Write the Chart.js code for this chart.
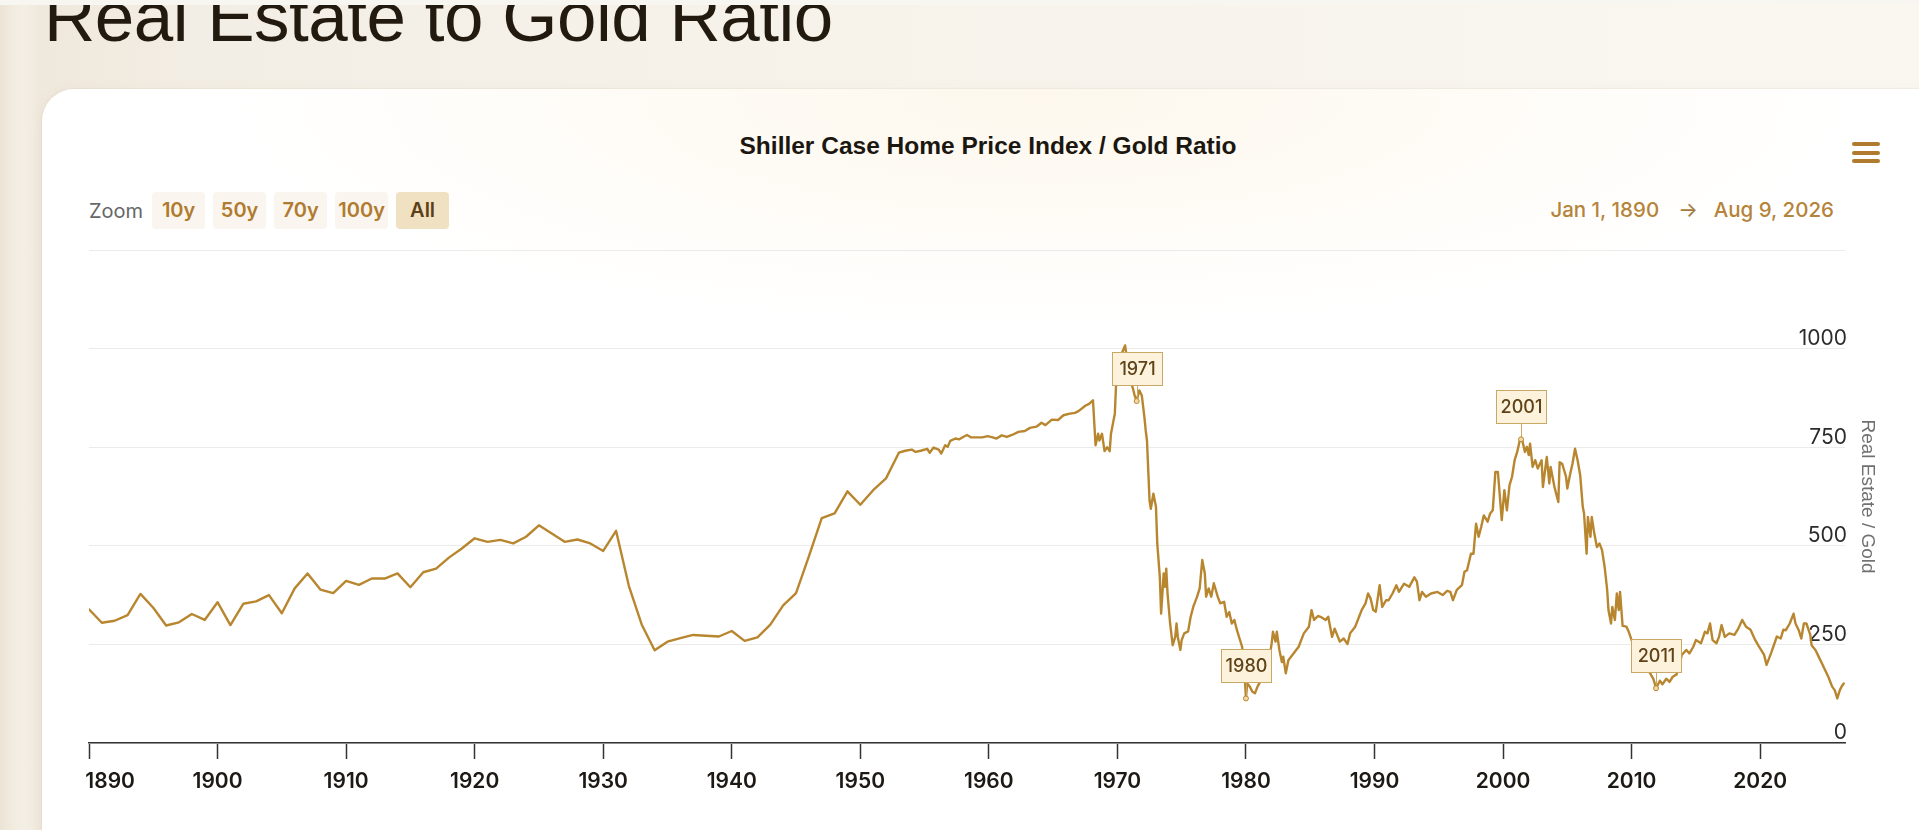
<!DOCTYPE html>
<html>
<head>
<meta charset="utf-8">
<title>Real Estate to Gold Ratio</title>
<script src="https://cdn.jsdelivr.net/npm/chart.js@4.4.1/dist/chart.umd.min.js"></script>
<style>
  html, body { margin: 0; padding: 0; width: 1919px; height: 830px; overflow: hidden; }
  body {
    position: relative;
    background: linear-gradient(90deg, #ebe4d6 0px, #f1ebdf 12px, #f4efe5 24px, #efe8dc 40px, #f3eee5 200px, #f7f3eb 900px, #faf7f1 1919px);
    font-family: Inter, "Liberation Sans", sans-serif;
  }
  #topstrip { position: absolute; left: 0; top: 0; width: 1919px; height: 5px; background: #f8f6f1; z-index: 3; }
  #pageTitle {
    position: absolute; left: 44px; top: -19px; margin: 0;
    font-family: "Liberation Sans", Arial, sans-serif; font-weight: 400; font-size: 71px; line-height: 1;
    color: #221a0f; white-space: nowrap; letter-spacing: -0.5px;
  }
  #card {
    position: absolute; left: 42px; top: 89px; width: 1940px; height: 800px;
    border-radius: 32px;
    background:
      radial-gradient(ellipse 820px 230px at 1000px 10px, rgba(252,242,222,0.55), rgba(255,255,255,0) 100%),
      #ffffff;
    box-shadow: 0 0 0 1px rgba(160,130,80,0.06), 0 2px 14px rgba(150,120,70,0.07);
  }
  #chartTitle {
    position: absolute; left: 0; width: 1976px; top: 134px; text-align: center;
    font-family: "Liberation Sans", Arial, sans-serif; font-weight: 700; font-size: 24.5px; line-height: 1;
    color: #1b1710; white-space: nowrap;
  }
  #zoomBar { position: absolute; left: 89px; top: 192px; height: 37px; display: flex; align-items: center; }
  #zoomBar .lbl { font-size: 20px; color: #666; margin-right: 9px; }
  #zoomBar .btn {
    height: 37px; line-height: 37px; padding: 0; text-align: center; width: 53px;
    margin-right: 8px; border-radius: 4px; background: #faf5ee;
    font-size: 20px; font-weight: 600; color: #b07b2e;
  }
  #zoomBar .btn.active { background: #f0e1c2; color: #5c3f15; width: 53px; }
  #range {
    position: absolute; right: 85px; top: 197px; height: 26px; line-height: 26px;
    font-size: 20.5px; font-weight: 500; color: #b5843a; white-space: nowrap;
  }
  #range .arrow { color: #a47a3c; margin: 0 16px 0 19px; font-weight: 400; }
  #menu { position: absolute; left: 1852px; top: 142px; width: 28px; height: 21px; }
  #menu div { position: absolute; left: 0; width: 28px; height: 4px; border-radius: 2px; background: #b07b2e; }
  #chartCanvas { position: absolute; left: 0; top: 0; }
</style>
</head>
<body>
<div id="topstrip"></div>
<h1 id="pageTitle">Real Estate to Gold Ratio</h1>
<div id="card"></div>
<div id="chartTitle">Shiller Case Home Price Index / Gold Ratio</div>
<div id="zoomBar">
  <span class="lbl">Zoom</span>
  <span class="btn">10y</span>
  <span class="btn">50y</span>
  <span class="btn">70y</span>
  <span class="btn">100y</span>
  <span class="btn active">All</span>
</div>
<div id="range"><span>Jan 1, 1890</span><span class="arrow">→</span><span>Aug 9, 2026</span></div>
<div id="menu"><div style="top:0"></div><div style="top:8.5px"></div><div style="top:17px"></div></div>
<canvas id="chartCanvas" width="1919" height="830"></canvas>

<script>
// ---------------- DATA ----------------
const years = [
  1890,1891,1892,1893,1894,1895,1896,1897,1898,1899,
  1900,1901,1902,1903,1904,1905,1906,1907,1908,1909,
  1910,1911,1912,1913,1914,1915,1916,1917,1918,1919,
  1920,1921,1922,1923,1924,1925,1926,1927,1928,1929,
  1930,1931,1932,1933,1934,1935,1936,1937,1938,1939,
  1940,1941,1942,1943,1944,1945,1946,1947,1948,1949,
  1950,1951,1952,1953,
  1953.5,1954,1954.3,1954.7,1955.2,1955.4,1955.7,1956.1,1956.3,1956.6,1956.8,
  1957.0,1957.4,1957.7,1958.0,1958.3,1958.6,1959.0,1959.5,1959.9,
  1960.3,1960.6,1961.0,1961.4,1961.8,1962.3,1962.8,1963.2,1963.7,
  1964.1,1964.4,1964.9,1965.4,1965.8,1966.3,1966.7,1967.0,1967.5,1967.8,1968.1,
  1968.3,1968.5,1968.6,1968.8,1969.0,1969.2,1969.4,1969.5,1969.7,1969.8,1969.9,
  1970.1,1970.3,1970.6,1970.8,1971.0,1971.2,1971.35,1971.5,1971.7,1971.9,
  1972.1,1972.2,1972.3,1972.4,1972.5,1972.6,1972.8,1973.0,1973.1,1973.3,1973.4,
  1973.6,1973.7,1973.8,1973.9,1974.1,1974.3,1974.5,1974.6,1974.7,1974.9,
  1975.0,1975.2,1975.5,1975.7,1975.9,1976.2,1976.4,1976.6,1976.8,1976.9,
  1977.1,1977.3,1977.5,1977.8,1978.0,1978.3,1978.5,1978.7,1978.9,
  1979.1,1979.3,1979.5,1979.7,1979.85,1980.0,1980.1,1980.3,1980.5,1980.7,1980.9,
  1981.1,1981.5,1981.8,1982.0,1982.1,1982.3,1982.4,1982.6,1982.8,1982.9,
  1983.1,1983.3,1983.7,1984.1,1984.5,1984.9,1985.1,1985.3,1985.6,1985.8,
  1986.2,1986.4,1986.7,1986.9,1987.3,1987.6,1987.9,1988.1,1988.5,1988.8,
  1989.0,1989.3,1989.5,1989.7,1989.9,1990.1,1990.4,1990.6,1990.9,
  1991.1,1991.4,1991.7,1991.9,1992.3,1992.7,1993.1,1993.3,1993.5,1993.7,
  1994.0,1994.4,1994.9,1995.3,1995.65,1995.9,1996.1,1996.4,1996.8,
  1997.0,1997.2,1997.5,1997.7,1997.9,1998.1,1998.3,1998.5,1998.8,
  1999.0,1999.2,1999.4,1999.6,1999.9,2000.1,2000.3,2000.5,2000.7,2000.9,
  2001.1,2001.3,2001.4,2001.5,2001.7,2001.85,2002.0,2002.1,2002.3,2002.5,2002.7,
  2003.0,2003.1,2003.4,2003.6,2003.7,2004.0,2004.3,2004.4,2004.6,2004.9,
  2005.0,2005.2,2005.4,2005.6,2005.8,2006.0,2006.2,2006.3,2006.5,2006.6,2006.8,2006.9,
  2007.1,2007.3,2007.5,2007.7,2007.9,2008.1,2008.2,2008.4,2008.5,2008.7,2008.85,
  2009.0,2009.1,2009.3,2009.6,2009.8,2010.0,2010.3,2010.6,
  2011.0,2011.4,2011.7,2011.9,2012.2,2012.4,2012.7,2012.95,2013.2,2013.5,2013.75,2013.9,
  2014.25,2014.5,2014.8,2015.0,2015.4,2015.7,2015.9,2016.1,2016.3,2016.6,2016.8,
  2017.0,2017.25,2017.6,2018.0,2018.3,2018.6,2018.9,2019.25,2019.6,2019.9,
  2020.3,2020.5,2020.85,2021.3,2021.6,2021.8,2022.0,2022.3,2022.6,2022.75,
  2023.0,2023.2,2023.4,2023.6,2023.9,2024.0,2024.3,2024.55,2024.8,
  2025.05,2025.3,2025.6,2025.8,2026.0,2026.2,2026.35,2026.5
];
const ratio = [
  339,305,310,324,378,343,298,306,327,312,
  357,299,353,359,375,329,392,430,389,380,
  411,401,417,417,430,395,433,442,470,493,
  519,510,515,506,523,552,531,510,516,506,
  487,538,398,300,235,257,266,274,272,270,
  284,259,268,300,349,380,473,570,582,638,
  604,641,671,736,
  741,744,738,741,746,736,749,744,734,755,751,
  766,772,770,776,781,775,775,775,778,
  775,772,780,776,781,789,791,799,802,
  812,806,820,819,831,835,837,842,855,860,869,
  755,784,767,784,740,750,740,784,818,835,911,
  945,985,1008,960,920,900,880,867,894,881,
  826,793,767,691,615,594,632,599,506,421,328,
  430,396,442,379,303,248,269,303,269,236,
  261,278,283,320,345,371,392,464,430,371,
  392,371,405,371,354,358,320,332,303,
  312,286,265,244,200,113,151,143,130,126,143,
  155,175,210,253,282,257,282,236,205,219,
  177,210,227,244,278,295,337,312,322,320,
  312,320,269,290,257,265,251,278,295,320,
  337,354,379,366,337,333,400,345,362,
  362,379,400,383,404,396,420,409,362,383,
  371,379,383,375,386,383,362,388,400,
  434,438,480,480,556,523,548,577,561,
  582,590,687,687,565,641,590,653,675,717,
  738,767,770,767,738,751,730,759,700,717,696,
  717,649,725,658,700,649,611,712,708,675,
  645,679,708,746,717,679,599,582,480,573,523,573,
  531,497,506,489,447,388,337,303,345,312,379,
  337,383,297,295,280,261,235,215,
  195,179,162,139,158,149,163,155,168,174,200,223,
  236,227,244,261,253,282,278,303,261,253,269,
  299,269,278,274,290,312,295,287,262,245,
  224,198,228,270,265,287,286,303,328,303,
  286,265,303,303,274,248,236,219,202,
  185,168,143,134,113,134,144,151
];
const xTickYears = [1890,1900,1910,1920,1930,1940,1950,1960,1970,1980,1990,2000,2010,2020];
const yTickValues = [0,250,500,750,1000,1250];
const annoYears  = [1971.5, 1980.0, 2001.4, 2011.9];
const annoValues = [867, 113, 770, 139];
const annoLabels = ['1971', '1980', '2001', '2011'];

// ---------------- CHART ----------------
const lineColor = '#b8862f';

const annotationPlugin = {
  id: 'yearFlags',
  afterDatasetsDraw(chart) {
    const {ctx, scales: {x, y}} = chart;
    ctx.save();
    annoYears.forEach((yr, i) => {
      const px = x.getPixelForValue(yr);
      const py = y.getPixelForValue(annoValues[i]);
      const w = 50, h = 33, gap = 16;
      const bx = Math.round(px - w / 2) + 0.5;
      const by = Math.round(py - gap - h) + 0.5;
      ctx.strokeStyle = '#c9a766';
      ctx.lineWidth = 1;
      ctx.beginPath();
      ctx.moveTo(Math.round(px) + 0.5, py);
      ctx.lineTo(Math.round(px) + 0.5, by + h);
      ctx.stroke();
      ctx.fillStyle = '#fdf3dc';
      ctx.fillRect(bx, by, w, h);
      ctx.strokeStyle = '#c9a766';
      ctx.strokeRect(bx, by, w, h);
      ctx.fillStyle = '#5f4217';
      ctx.font = '500 18px Inter, "Liberation Sans", sans-serif';
      ctx.textAlign = 'center';
      ctx.textBaseline = 'middle';
      ctx.fillText(annoLabels[i], bx + w / 2, by + h / 2 + 1);
      ctx.beginPath();
      ctx.arc(px, py, 2.5, 0, Math.PI * 2);
      ctx.fillStyle = '#f1d9a6';
      ctx.fill();
      ctx.strokeStyle = lineColor;
      ctx.lineWidth = 1;
      ctx.stroke();
    });
    ctx.restore();
  }
};

const points = years.map((yr, i) => ({x: yr, y: ratio[i]}));

new Chart(document.getElementById('chartCanvas'), {
  type: 'line',
  data: {
    datasets: [{
      label: 'Real Estate / Gold',
      data: points,
      borderColor: lineColor,
      borderWidth: 2.4,
      pointRadius: 0,
      pointHoverRadius: 0,
      tension: 0,
      fill: false,
      borderJoinStyle: 'round',
      borderCapStyle: 'round'
    }]
  },
  options: {
    responsive: false,
    animation: false,
    events: [],
    layout: { padding: { left: 89, top: 250, right: 40, bottom: 0 } },
    plugins: {
      legend: { display: false },
      tooltip: { enabled: false },
      title: { display: false }
    },
    scales: {
      x: {
        type: 'linear',
        min: 1890,
        max: 2026.6,
        afterBuildTicks: (axis) => { axis.ticks = xTickYears.map(v => ({value: v})); },
        afterFit: (axis) => { axis.height = 87; },
        grid: { drawOnChartArea: false, drawTicks: true, tickLength: 16, tickColor: '#333333', tickWidth: 1.5 },
        border: { display: true, color: '#333333', width: 1.5 },
        ticks: {
          autoSkip: false,
          maxRotation: 0,
          minRotation: 0,
          padding: 10,
          color: '#1d1a16',
          font: { family: 'Inter, "Liberation Sans", sans-serif', size: 21, weight: '600' },
          callback: (v) => (v === 1890 ? '        ' + String(v) : String(v))
        }
      },
      y: {
        position: 'right',
        min: 0,
        max: 1250,
        afterBuildTicks: (axis) => { axis.ticks = yTickValues.map(v => ({value: v})); },
        afterFit: (axis) => { axis.width = 34; },
        grid: { color: '#ebebeb', lineWidth: 1, drawTicks: false },
        border: { display: false },
        ticks: {
          mirror: true,
          padding: 2,
          labelOffset: -10,
          color: '#2b2b2b',
          font: { family: 'Inter, "Liberation Sans", sans-serif', size: 21, weight: '400' },
          callback: (v) => (v === 1250 ? '' : String(v))
        },
        title: {
          display: true,
          text: 'Real Estate / Gold',
          color: '#707070',
          padding: 0,
          font: { family: '"Liberation Sans", Arial, sans-serif', size: 19, weight: '400' }
        }
      }
    }
  },
  plugins: [annotationPlugin]
});
</script>
</body>
</html>
